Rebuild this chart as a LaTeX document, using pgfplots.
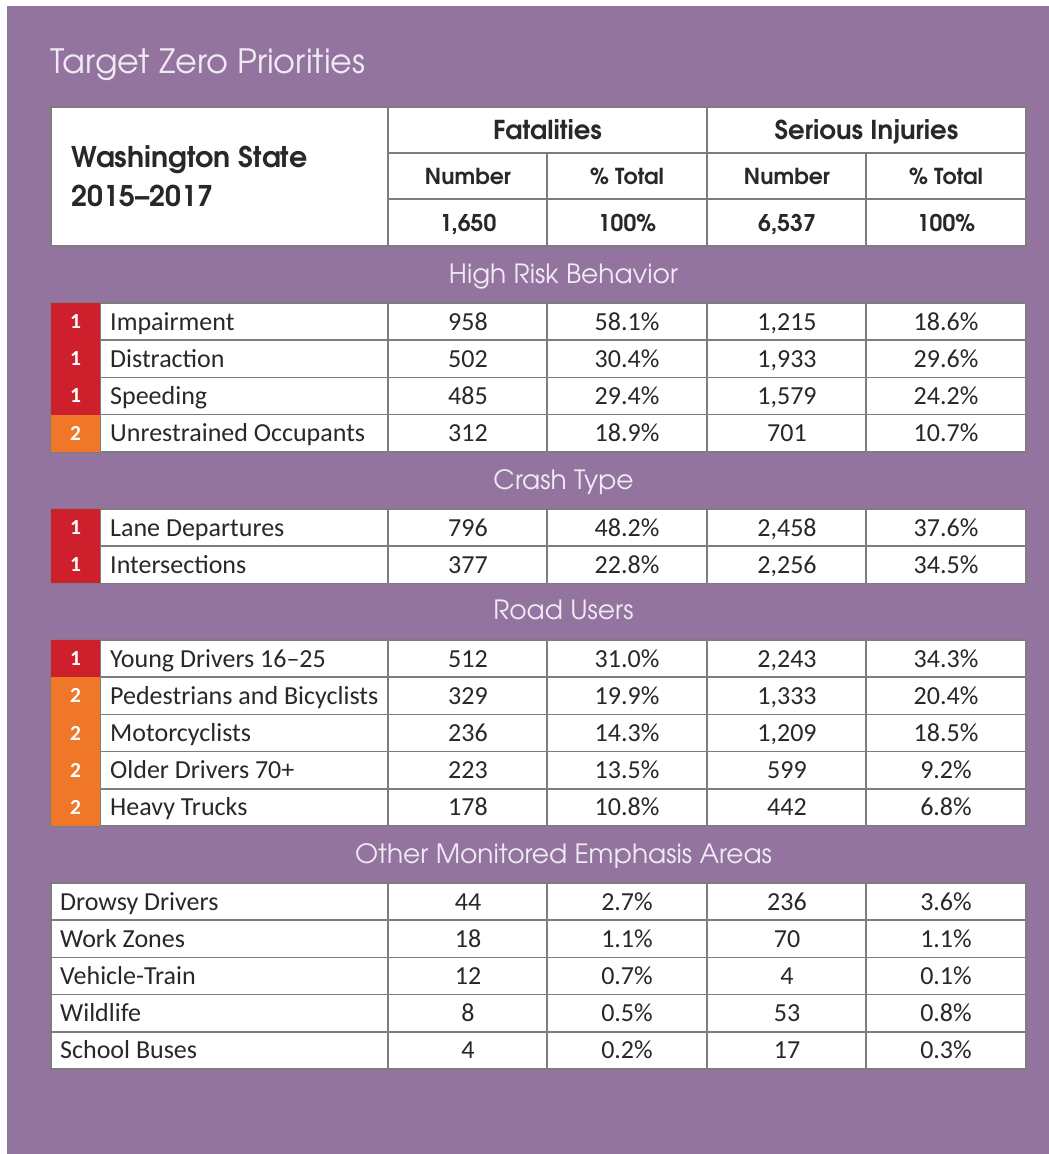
\documentclass[border=0pt]{standalone}
\usepackage{pgfplots}
\pgfplotsset{compat=1.18}
\usepackage{pgfplotstable}
\usepackage{fontspec}
\setmainfont{Carlito}
\newfontfamily\gothic{TeX Gyre Adventor}
\definecolor{bgpurple}{RGB}{147,116,159}
\definecolor{titlecol}{RGB}{240,234,245}
\definecolor{tzred}{RGB}{205,32,44}
\definecolor{tzorange}{RGB}{240,118,40}
\definecolor{gridcol}{RGB}{125,125,125}
\definecolor{txt}{RGB}{40,40,40}

\pgfplotstableread[col sep=comma]{
fn,fp,sn,sp
1650,100,6537,100
}\totals
\pgfplotstableread[col sep=comma]{
p,label,fn,fp,sn,sp
1,Impairment,958,58.1,1215,18.6
1,Distraction,502,30.4,1933,29.6
1,Speeding,485,29.4,1579,24.2
2,Unrestrained Occupants,312,18.9,701,10.7
}\highrisk
\pgfplotstableread[col sep=comma]{
p,label,fn,fp,sn,sp
1,Lane Departures,796,48.2,2458,37.6
1,Intersections,377,22.8,2256,34.5
}\crashtype
\pgfplotstableread[col sep=comma]{
p,label,fn,fp,sn,sp
1,Young Drivers 16–25,512,31.0,2243,34.3
2,Pedestrians and Bicyclists,329,19.9,1333,20.4
2,Motorcyclists,236,14.3,1209,18.5
2,Older Drivers 70+,223,13.5,599,9.2
2,Heavy Trucks,178,10.8,442,6.8
}\roadusers
\pgfplotstableread[col sep=comma]{
p,label,fn,fp,sn,sp
0,Drowsy Drivers,44,2.7,236,3.6
0,Work Zones,18,1.1,70,1.1
0,Vehicle-Train,12,0.7,4,0.1
0,Wildlife,8,0.5,53,0.8
0,School Buses,4,0.2,17,0.3
}\other

\pgfplotsset{
  cell/.style={draw=none, mark=none, nodes near coords, nodes near coords align={center},
    every node near coord/.append style={anchor=base, inner sep=0pt, text=txt,
      font=\fontsize{26}{30}\selectfont}},
  lab/.style={cell, point meta=explicit symbolic,
    every node near coord/.append style={anchor=base west}},
  intv/.style={cell, point meta=explicit,
    nodes near coords={\pgfmathprintnumber[fixed,precision=0,1000 sep={,}]{\pgfplotspointmeta}}},
  pctv/.style={cell, point meta=explicit,
    nodes near coords={\pgfmathprintnumber[fixed,fixed zerofill,precision=1]{\pgfplotspointmeta}\%}},
  badge/.style={draw=none, mark=none, nodes near coords, point meta=explicit symbolic,
    nodes near coords align={center},
    every node near coord/.append style={anchor=center, inner sep=0pt, minimum width=49pt,
      minimum height=37.2pt, text=white, font=\bfseries\fontsize{21.5}{24}\selectfont, fill=#1}},
  hdr/.style={draw=none, mark=none, nodes near coords, nodes near coords align={center},
    every node near coord/.append style={anchor=base, inner sep=0pt, text=txt,
      font=\gothic\bfseries\fontsize{23}{27}\selectfont}},
}

% #1 table, #2 top y, #3 label x
\newcommand\blockdata[3]{%
  \addplot[lab] table[x expr=#3, y expr={#2+(\coordindex+0.5)*37.2+8.5}, meta=label]{#1};
  \addplot[intv] table[x expr=468, y expr={#2+(\coordindex+0.5)*37.2+8.5}, meta=fn]{#1};
  \addplot[pctv] table[x expr=627, y expr={#2+(\coordindex+0.5)*37.2+8.5}, meta=fp]{#1};
  \addplot[intv] table[x expr=787, y expr={#2+(\coordindex+0.5)*37.2+8.5}, meta=sn]{#1};
  \addplot[pctv] table[x expr=946, y expr={#2+(\coordindex+0.5)*37.2+8.5}, meta=sp]{#1};
}
% #1 table, #2 top y
\newcommand\blockbadges[2]{%
  \addplot[badge=tzred, restrict expr to domain={\thisrow{p}}{0.5:1.5}]
    table[x expr=75.5, y expr={#2+(\coordindex+0.5)*37.2}, meta=p]{#1};
  \addplot[badge=tzorange, restrict expr to domain={\thisrow{p}}{1.5:2.5}]
    table[x expr=75.5, y expr={#2+(\coordindex+0.5)*37.2}, meta=p]{#1};
}
% #1 top, #2 bottom, #3 interior ys, #4 first vertical
\newcommand\blockgrid[4]{%
  \pgfplotsinvokeforeach{#3}{\draw[gridc] (axis cs:51,##1) -- (axis cs:1026,##1);}
  \pgfplotsinvokeforeach{#4,388,547,707,866}{\draw[gridc] (axis cs:##1,#1) -- (axis cs:##1,#2);}
  \draw[gridc] (axis cs:51,#1) rectangle (axis cs:1026,#2);
}

\begin{document}
\begin{tikzpicture}[gridc/.style={draw=gridcol, line width=1.6pt}]
\begin{axis}[
  width=1049pt, height=1154pt, scale only axis,
  xmin=0, xmax=1049, ymin=0, ymax=1154, y dir=reverse,
  axis lines=none, clip=false,
  /pgf/number format/assume math mode=true,
]
% background
\fill[white] (axis cs:0,0) rectangle (axis cs:1049,1154);
\fill[bgpurple] (axis cs:7,6) rectangle (axis cs:1049,1154);
% title
\node[anchor=base west, inner sep=0pt, text=titlecol, font=\gothic\fontsize{33.5}{38}\selectfont]
  at (axis cs:50,73) {Target Zero Priorities};
% white boxes
\fill[white] (axis cs:51,107) rectangle (axis cs:1026,246);
\fill[white] (axis cs:51,303) rectangle (axis cs:1026,451.8);
\fill[white] (axis cs:51,509) rectangle (axis cs:1026,583.4);
\fill[white] (axis cs:51,640) rectangle (axis cs:1026,826);
\fill[white] (axis cs:51,883) rectangle (axis cs:1026,1069);
% badges
\blockbadges{\highrisk}{303}
\blockbadges{\crashtype}{509}
\blockbadges{\roadusers}{640}
% header grid
\draw[gridc] (axis cs:51,107) rectangle (axis cs:1026,246);
\draw[gridc] (axis cs:388,153) -- (axis cs:1026,153);
\draw[gridc] (axis cs:388,199) -- (axis cs:1026,199);
\draw[gridc] (axis cs:388,107) -- (axis cs:388,246);
\draw[gridc] (axis cs:707,107) -- (axis cs:707,246);
\draw[gridc] (axis cs:547,153) -- (axis cs:547,246);
\draw[gridc] (axis cs:866,153) -- (axis cs:866,246);
% block grids
\blockgrid{303}{451.8}{340.2,377.4,414.6}{100}
\blockgrid{509}{583.4}{546.2}{100}
\blockgrid{640}{826}{677.2,714.4,751.6,788.8}{100}
\blockgrid{883}{1069}{920.2,957.4,994.6,1031.8}{388}
% header text
\node[anchor=base west, inner sep=0pt, text=txt, font=\gothic\bfseries\fontsize{28.5}{32}\selectfont]
  at (axis cs:71,167) {Washington State};
\node[anchor=base west, inner sep=0pt, text=txt, font=\gothic\bfseries\fontsize{28.5}{32}\selectfont]
  at (axis cs:71,206) {2015–2017};
\node[anchor=base, inner sep=0pt, text=txt, font=\gothic\bfseries\fontsize{26}{30}\selectfont]
  at (axis cs:547.5,139) {Fatalities};
\node[anchor=base, inner sep=0pt, text=txt, font=\gothic\bfseries\fontsize{26}{30}\selectfont]
  at (axis cs:866.5,139) {Serious Injuries};
\node[anchor=base, inner sep=0pt, text=txt, font=\gothic\bfseries\fontsize{22}{26}\selectfont]
  at (axis cs:468,184) {Number};
\node[anchor=base, inner sep=0pt, text=txt, font=\gothic\bfseries\fontsize{22}{26}\selectfont]
  at (axis cs:627,184) {\% Total};
\node[anchor=base, inner sep=0pt, text=txt, font=\gothic\bfseries\fontsize{22}{26}\selectfont]
  at (axis cs:787,184) {Number};
\node[anchor=base, inner sep=0pt, text=txt, font=\gothic\bfseries\fontsize{22}{26}\selectfont]
  at (axis cs:946,184) {\% Total};
\addplot[hdr, point meta=explicit, nodes near coords={\pgfmathprintnumber[fixed,precision=0,1000 sep={,}]{\pgfplotspointmeta}}]
  table[x expr=468, y expr=231, meta=fn]{\totals};
\addplot[hdr, point meta=explicit, nodes near coords={\pgfmathprintnumber[fixed,precision=0]{\pgfplotspointmeta}\%}]
  table[x expr=627, y expr=231, meta=fp]{\totals};
\addplot[hdr, point meta=explicit, nodes near coords={\pgfmathprintnumber[fixed,precision=0,1000 sep={,}]{\pgfplotspointmeta}}]
  table[x expr=787, y expr=231, meta=sn]{\totals};
\addplot[hdr, point meta=explicit, nodes near coords={\pgfmathprintnumber[fixed,precision=0]{\pgfplotspointmeta}\%}]
  table[x expr=946, y expr=231, meta=sp]{\totals};
% section titles
\tikzset{sect/.style={anchor=base, inner sep=0pt, text=titlecol, font=\gothic\fontsize{26.5}{30}\selectfont}}
\node[sect] at (axis cs:563.5,283) {High Risk Behavior};
\node[sect] at (axis cs:563.5,489) {Crash Type};
\node[sect] at (axis cs:563.5,619) {Road Users};
\node[sect] at (axis cs:563.5,863) {Other Monitored Emphasis Areas};
% block data
\blockdata{\highrisk}{303}{110}
\blockdata{\crashtype}{509}{110}
\blockdata{\roadusers}{640}{110}
\blockdata{\other}{883}{60}
\end{axis}
\end{tikzpicture}
\end{document}
